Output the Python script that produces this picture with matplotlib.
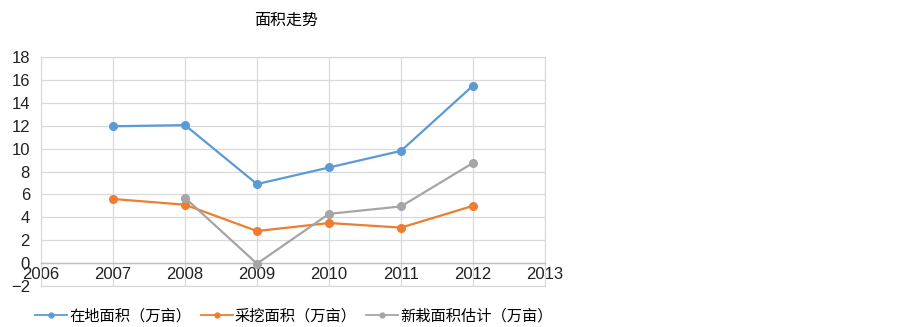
import matplotlib
matplotlib.use('Agg')
import matplotlib.pyplot as plt
from matplotlib.lines import Line2D

plt.rcParams['font.family'] = ['Liberation Sans', 'Noto Sans CJK SC', 'DejaVu Sans']

years = [2007, 2008, 2009, 2010, 2011, 2012]
zaidi = [11.95, 12.05, 6.9, 8.35, 9.8, 15.5]        # 在地面积
caiwa = [5.6, 5.1, 2.8, 3.5, 3.1, 5.0]              # 采挖面积
xinzai_years = [2008, 2009, 2010, 2011, 2012]
xinzai = [5.7, -0.05, 4.3, 4.95, 8.75]              # 新栽面积估计

labels = ['在地面积（万亩）', '采挖面积（万亩）', '新栽面积估计（万亩）']
colors = ['#5b9bd5', '#ed7d31', '#a5a5a5']

fig = plt.figure(figsize=(9.03, 3.27), dpi=100)
ax = fig.add_axes([41 / 903, 41 / 327, 504 / 903, 229 / 327])

ax.plot(years, zaidi, color=colors[0], lw=1.6, marker='o', ms=5.5, zorder=3)
ax.plot(years, caiwa, color=colors[1], lw=1.6, marker='o', ms=5.5, zorder=3)
ax.plot(xinzai_years, xinzai, color=colors[2], lw=1.6, marker='o', ms=5.5, zorder=3)

ax.set_xlim(2006, 2013)
ax.set_ylim(-2, 18)
ax.set_xticks(range(2006, 2014))
ax.set_yticks(range(-2, 19, 2))
ax.grid(True, color='#d9d9d9', lw=0.9)
ax.set_axisbelow(True)

for s in ['top', 'right', 'left']:
    ax.spines[s].set_color('#d9d9d9')
ax.spines['bottom'].set_position(('data', 0))
ax.spines['bottom'].set_color('#bfbfbf')
ax.spines['bottom'].set_linewidth(1.0)
ax.tick_params(axis='both', length=0, labelsize=12, colors='#222222')
ax.tick_params(axis='x', pad=3)
ax.tick_params(axis='y', pad=8)
# 底部 -2 处的边线
ax.axhline(-2, color='#d9d9d9', lw=0.9, clip_on=False)

fig.text(286 / 903, 1 - 20 / 327, '面积走势', ha='center', va='center', fontsize=11.5)

# 图例：细线 + 小圆点
handles = [Line2D([], [], color=c, lw=1.3, marker='o', ms=3.5) for c in colors]
fig.legend(handles, labels, loc='center', bbox_to_anchor=(294 / 903, 1 - 316 / 327), ncol=3,
           frameon=False, fontsize=11, handlelength=2.1, columnspacing=0.6, handletextpad=0.15)

fig.savefig('out.png', dpi=100)
